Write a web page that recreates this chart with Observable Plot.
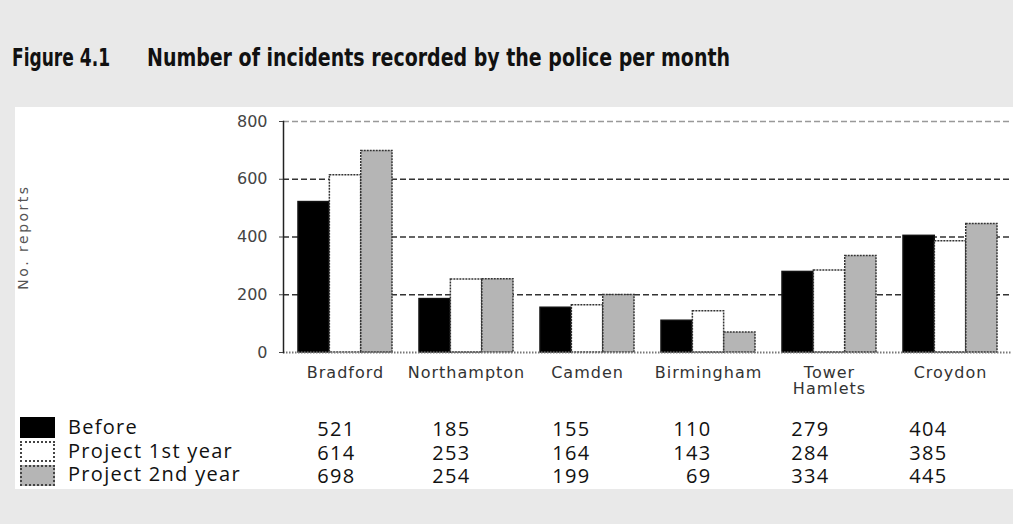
<!DOCTYPE html>
<html><head><meta charset="utf-8">
<script src="https://cdn.jsdelivr.net/npm/d3@7"></script>
<script src="https://cdn.jsdelivr.net/npm/@observablehq/plot@0.6"></script>
<style>
html,body{margin:0;padding:0;}
body{width:1013px;height:524px;background:#e9e9e9;position:relative;overflow:hidden;font-family:"Open Sans",sans-serif;}
#panel{position:absolute;left:15px;top:107px;width:998px;height:382px;background:#fff;overflow:hidden;}
#chart{position:absolute;left:0;top:0;}
.title{position:absolute;top:45px;font-family:"Liberation Sans Narrow","DejaVu Sans Condensed",sans-serif;font-weight:bold;font-size:25px;line-height:25px;color:#111;white-space:nowrap;transform-origin:0 0;}
.leg{position:absolute;left:53px;font-family:"Open Sans",sans-serif;font-size:20px;line-height:20px;letter-spacing:1.3px;color:#111;white-space:nowrap;}
.sw{position:absolute;left:5px;width:35px;height:21px;box-sizing:border-box;}
</style></head><body>
<div id="t1" class="title" style="left:12px">Figure 4.1</div>
<div id="t2" class="title" style="left:147px">Number of incidents recorded by the police per month</div>
<div id="panel"><div id="chart"></div></div>
<script>
const cities = ["Bradford","Northampton","Camden","Birmingham","Tower Hamlets","Croydon"];
const cityLabels = ["Bradford","Northampton","Camden","Birmingham","Tower\nHamlets","Croydon"];
const seriesNames = ["Before","Project 1st year","Project 2nd year"];
const before = [521,185,155,110,279,404];
const year1 = [614,253,164,143,284,385];
const year2 = [698,254,199,69,334,445];
const yTicks = [0,200,400,600,800];
const yLabel = "No. reports";

// fit condensed title text to reference widths
[["t1",98],["t2",583]].forEach(([id,w])=>{
  const el=document.getElementById(id);
  const cw=el.getBoundingClientRect().width;
  el.style.transform=`scaleX(${w/cw})`;
});

const W=998,H=382,mL=268,mR=2,mT=14,mB=137;
const xOpts={domain:cities,paddingInner:0.226,paddingOuter:0.107};
const xs=Plot.scale({x:{type:"band",...xOpts,range:[mL,W-mR]}});
const sub=xs.bandwidth/3;
const styles=[
  {fill:"#000",stroke:"#111",dash:null},
  {fill:"#fff",stroke:"#333",dash:"2,1"},
  {fill:"#b5b5b5",stroke:"#333",dash:"2,1"}
];
const seriesValues=[before,year1,year2];
const rows=seriesValues.map(vals=>cities.map((c,i)=>({city:c,value:vals[i]})));
const rowDy=[83,107,130];          // table row baselines below the x axis
const colDx=[10,4,3,3,0,-3];       // table column right edges relative to group centre

const tableMarks=[];
rows.forEach((r,k)=>r.forEach((d,j)=>{
  tableMarks.push(Plot.text([d],{x:"city",text:e=>String(e.value),frameAnchor:"bottom",lineAnchor:"bottom",textAnchor:"end",dx:colDx[j],dy:rowDy[k],fontSize:20,fontFamily:"Open Sans",fill:"#111"}));
}));

const chart=Plot.plot({
  width:W,height:H,marginLeft:mL,marginRight:mR,marginTop:mT,marginBottom:mB,
  style:{background:"transparent",fontFamily:"DejaVu Sans",overflow:"visible"},
  x:{...xOpts,axis:null},
  y:{domain:[0,800],axis:null},
  marks:[
    Plot.ruleY(yTicks.slice(1,4),{stroke:"#333",strokeWidth:1.4,strokeDasharray:"6,3"}),
    Plot.ruleY(yTicks.slice(4),{stroke:"#999",strokeWidth:1.4,strokeDasharray:"6,3"}),
    ...styles.map((s,k)=>Plot.barY(rows[k],{x:"city",y:"value",fill:s.fill,stroke:s.stroke,strokeWidth:1.5,strokeDasharray:s.dash,insetLeft:k*sub,insetRight:(2-k)*sub})),
    Plot.ruleY([0],{stroke:"#777",strokeWidth:2,strokeDasharray:"1.5,1.5"}),
    Plot.frame({anchor:"left",stroke:"#222",strokeWidth:1.5}),
    Plot.axisY({ticks:yTicks,tickSize:4,tickPadding:12,fontSize:16,color:"#444",label:null,tickFormat:d=>String(d)}),
    Plot.text(cities,{x:d=>d,text:(d,i)=>cityLabels[i],frameAnchor:"bottom",lineAnchor:"top",dy:14,lineHeight:1.0,fontSize:16,fill:"#333"}),
    ...tableMarks,
    Plot.text([yLabel],{frameAnchor:"left",textAnchor:"middle",dx:-260,rotate:-90,fontSize:14,fill:"#555"})
  ]
});
document.getElementById("chart").appendChild(chart);
const sel=d3.select(chart).selectAll("text");
const valueStrings=new Set(seriesValues.flat().map(String));
sel.filter(function(){return this.textContent===yLabel;}).attr("letter-spacing","2.5px");
sel.filter(function(){return cities.includes(this.textContent)||this.textContent==="TowerHamlets";}).attr("letter-spacing","1px");
sel.filter(function(){return valueStrings.has(this.textContent);}).attr("letter-spacing","1.3px");

// legend
const panel=document.getElementById("panel");
const swTops=[310,334,358], legTops=[310,334,357];
seriesNames.forEach((n,k)=>{
  const sw=document.createElement("div");
  sw.className="sw";sw.style.top=swTops[k]+"px";
  sw.style.background=styles[k].fill;
  if(k>0) sw.style.border="2px dotted #444";
  panel.appendChild(sw);
  const t=document.createElement("div");
  t.className="leg";t.style.top=legTops[k]+"px";t.textContent=n;
  panel.appendChild(t);
});
</script>
</body></html>
